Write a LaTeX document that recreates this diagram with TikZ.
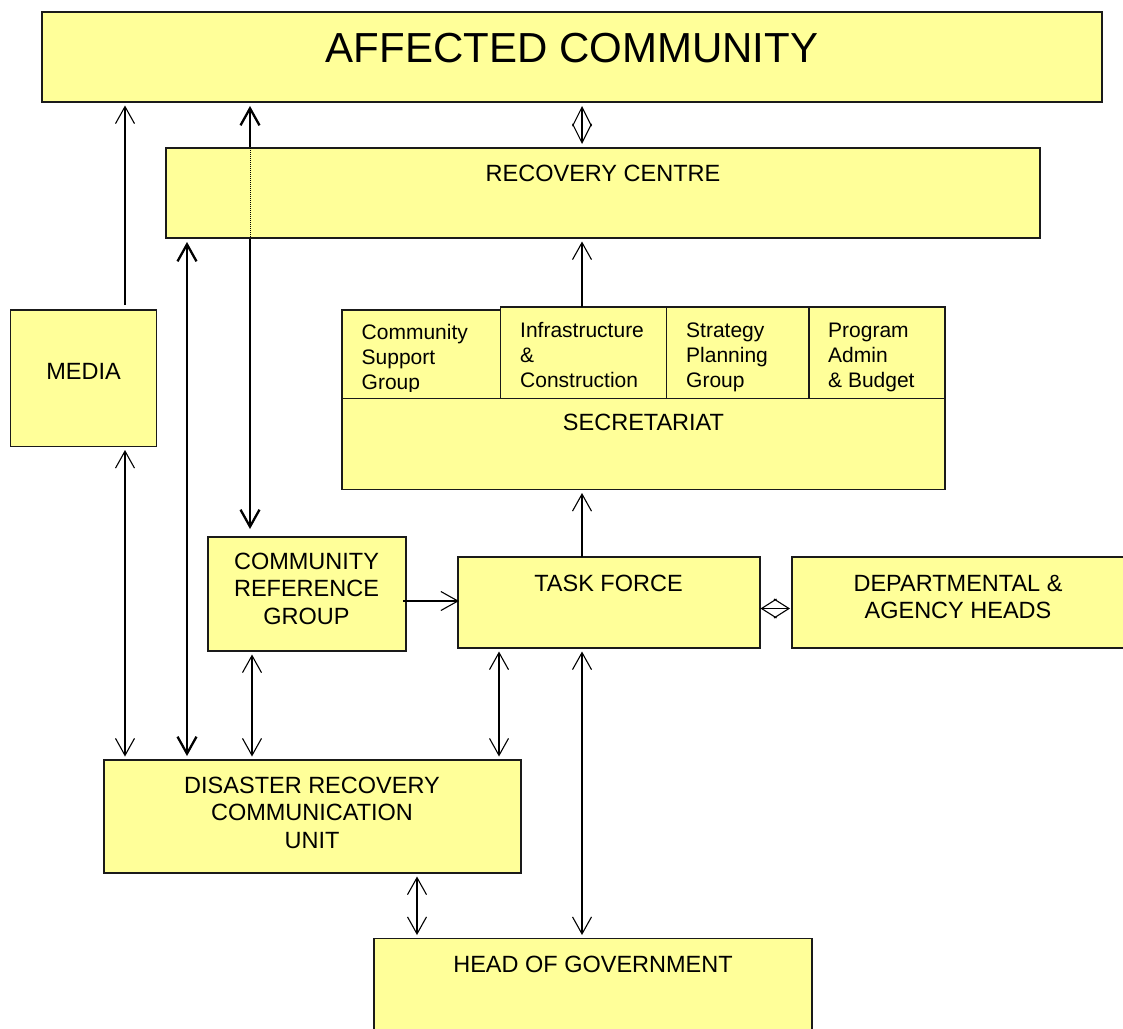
\documentclass[tikz,border=0pt]{standalone}
\usepackage{fontspec}
\setmainfont{Liberation Sans}
\usetikzlibrary{arrows.meta}
\pgfdeclarelayer{back}
\pgfsetlayers{back,main}
\definecolor{boxfill}{HTML}{FFFF99}
\definecolor{boxline}{HTML}{1A1A1A}
\begin{document}
\begin{tikzpicture}[x=1pt,y=-1pt,
  box/.style={draw=boxline, line width=1.6pt, fill=boxfill, rectangle, anchor=north west, inner sep=0pt, outer sep=0pt},
  txt/.style={font=\fontsize{23.5}{27.5}\selectfont, align=center, anchor=north, inner sep=0pt},
  bigtxt/.style={font=\fontsize{42}{48}\selectfont, anchor=north, inner sep=0pt},
  smalltxt/.style={font=\fontsize{21}{25}\selectfont, align=left, anchor=north west, inner sep=0pt},
  conn/.style={line width=1.1pt, shorten <=3.5pt, shorten >=3.5pt},
  thickconn/.style={line width=2.3pt, shorten <=4pt, shorten >=4pt},
  >={Straight Barb[length=17pt,width=19pt]},
  diamv/.style={line width=1.1pt, arrows={Straight Barb[length=19pt,width=19pt]-Straight Barb[length=19pt,width=19pt]}},
  diamh/.style={line width=1.1pt, arrows={Straight Barb[length=15pt,width=19pt]-Straight Barb[length=15pt,width=19pt]}}
]
\useasboundingbox (0,0) rectangle (1123,1028);

% boxes
\node[box, minimum width=1060pt, minimum height=90pt] (ac) at (42,12) {};
\node[box, minimum width=874pt, minimum height=90pt] (rc) at (166,148) {};
\node[box, minimum width=146pt, minimum height=136.5pt] (media) at (10.5,310) {};
\node[box, minimum width=158.6pt, minimum height=88.5pt] (csg) at (342,310) {};
\node[box, minimum width=165.9pt, minimum height=91.5pt] (infra) at (500.6,307) {};
\node[box, minimum width=142.2pt, minimum height=91.5pt] (strat) at (666.5,307) {};
\node[box, minimum width=136.3pt, minimum height=91.5pt] (prog) at (808.7,307) {};
\node[box, minimum width=603pt, minimum height=91pt] (sec) at (342,398.5) {};
\node[box, minimum width=198pt, minimum height=114pt] (crg) at (208,537) {};
\node[box, minimum width=302pt, minimum height=91pt] (tf) at (458,557) {};
\node[box, minimum width=336pt, minimum height=91pt] (dh) at (792,557) {};
\node[box, minimum width=416.7pt, minimum height=113pt] (drcu) at (104,760) {};
\node[box, minimum width=438pt, minimum height=100pt] (hog) at (374,938.5) {};

% texts
\node[bigtxt] (actext) at (572,33) {AFFECTED COMMUNITY};
\node[txt] (rctext) at (603,164.6) {RECOVERY CENTRE};
\node[txt] (mediatext) at (83.5,363) {MEDIA};
\node[txt] (sectext) at (643.5,413.6) {SECRETARIAT};
\node[txt] (crgtext) at (306.5,552.6) {COMMUNITY\\REFERENCE\\GROUP};
\node[txt] (tftext) at (608.5,574.6) {TASK FORCE};
\node[txt] (dhtext) at (958,574.6) {DEPARTMENTAL \&\\AGENCY HEADS};
\node[txt] (drcutext) at (312,776.6) {DISASTER RECOVERY\\COMMUNICATION\\UNIT};
\node[txt] (hogtext) at (593,955.6) {HEAD OF GOVERNMENT};
\begin{scope}
\clip (342,300) rectangle (945,391.5);
\node[smalltxt] (csgtext) at (361.5,324.5) {Community\\Support\\Group};
\node[smalltxt] (infratext) at (520,322.5) {Infrastructure\\\&\\Construction};
\node[smalltxt] (strattext) at (686,322.5) {Strategy\\Planning\\Group};
\node[smalltxt] (progtext) at (828,322.5) {Program\\Admin\\\& Budget};
\end{scope}

% connectors behind boxes
\begin{pgfonlayer}{back}
\draw[thickconn, <->, shorten >=8pt] (250,0 |- ac.south) -- (250,0 |- crg.north);
\end{pgfonlayer}
\draw[line width=1pt, dash pattern=on 1pt off 1pt] (250,0 |- rc.north) -- (250,0 |- rc.south);

\draw[conn, ->, shorten <=5pt] (125,0 |- media.north) -- (125,0 |- ac.south);
\draw[conn, <->] (125,0 |- media.south) -- (125,0 |- drcu.north);
\draw[thickconn, <->] (187,0 |- rc.south) -- (187,0 |- drcu.north);
\draw[diamv, shorten <=4pt, shorten >=4pt] (582,0 |- ac.south) -- (582,0 |- rc.north);
\draw[conn, ->, shorten <=0pt] (582,0 |- infra.north) -- (582,0 |- rc.south);
\draw[conn, ->, shorten <=0pt] (582,0 |- tf.north) -- (582,0 |- sec.south);
\draw[conn, ->, shorten <=-3pt, shorten >=-1pt] (crg.east |- 0,601) -- (tf.west |- 0,601);
\draw[diamh, shorten <=0.5pt, shorten >=2pt] (tf.east |- 0,608.5) -- (dh.west |- 0,608.5);
\draw[conn, <->] (252,0 |- crg.south) -- (252,0 |- drcu.north);
\draw[conn, <->] (499,0 |- tf.south) -- (499,0 |- drcu.north);
\draw[conn, <->] (582,0 |- tf.south) -- (582,0 |- hog.north);
\draw[conn, <->] (417,0 |- drcu.south) -- (417,0 |- hog.north);
\end{tikzpicture}
\end{document}
